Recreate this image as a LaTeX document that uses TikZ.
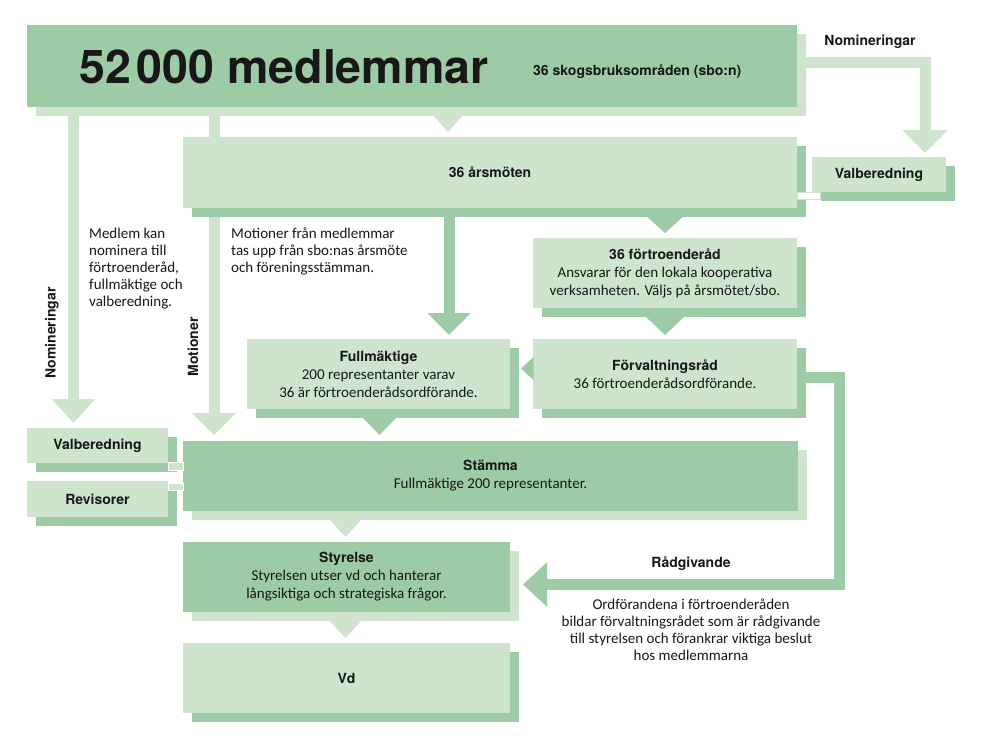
\documentclass[tikz,border=0pt]{standalone}
\usepackage{fontspec}
\setmainfont{Carlito}
\newfontfamily\headfont{TeX Gyre Heros}
\usetikzlibrary{arrows.meta,calc,shadows}
\pgfdeclarelayer{background}
\pgfsetlayers{background,main}
\definecolor{dg}{RGB}{157,203,166}
\definecolor{lg}{RGB}{206,228,205}
\definecolor{ink}{RGB}{24,24,24}
\newcommand{\hd}{\headfont\bfseries\fontsize{14}{18}\selectfont}
\newcommand{\bd}{\fontsize{15}{18}\selectfont}
\newcommand{\pdown}[4]{\fill[#1] ($(#2)+(-#3,0)$) -- ($(#2)+(#3,0)$) -- ($(#2)+(0,#4)$) -- cycle;}
\tikzset{
  box/.style={inner sep=0pt, outer sep=0pt, align=center, text=ink, font=\bd},
  darkbox/.style={box, fill=dg, drop shadow={shadow xshift=8.5pt, shadow yshift=-8.5pt, fill=lg, opacity=1}},
  lightbox/.style={box, fill=lg, drop shadow={shadow xshift=8.5pt, shadow yshift=-8.5pt, fill=dg, opacity=1}},
  band/.style={line width=11pt, line join=miter, -{Triangle[width=43pt,length=23pt]}},
  link/.style={draw=white, fill=lg, line width=1pt},
  label/.style={inner sep=0pt, text=ink, font=\hd},
  free/.style={inner sep=0pt, text=ink, font=\fontsize{15}{16.9}\selectfont},
}
\begin{document}
\begin{tikzpicture}[x=1pt,y=-1pt]
\useasboundingbox (0,0) rectangle (992,753);
% boxes
\node[darkbox, minimum width=770pt, minimum height=82pt] (top) at (412,66) {};
\node[anchor=base west, inner sep=0pt, text=ink, font=\headfont\bfseries\fontsize{46.5}{48}\selectfont] (title) at (79,83) {52\kern6pt000 medlemmar};
\node[anchor=west, label] (sbo) at (533,72) {36 skogsbruksområden (sbo:n)};
\node[lightbox, minimum width=614pt, minimum height=71pt] (arsmoten) at (490,172.5) {{\hd 36 årsmöten}};
\node[lightbox, minimum width=134pt, minimum height=35pt] (valbTR) at (879,174.5) {{\hd Valberedning}};
\node[lightbox, minimum width=264pt, minimum height=70pt] (fortroende) at (665,273) {{\hd 36 förtroenderåd}\\Ansvarar för den lokala kooperativa\\verksamheten. Väljs på årsmötet/sbo.};
\node[lightbox, minimum width=264pt, minimum height=70pt] (forvaltning) at (665,374) {{\hd Förvaltningsråd}\\36 förtroenderådsordförande.};
\node[lightbox, minimum width=263pt, minimum height=70pt] (fullmaktige) at (378.5,374) {{\hd Fullmäktige}\\200 representanter varav\\36 är förtroenderådsordförande.};
\node[darkbox, minimum width=615pt, minimum height=70pt] (stamma) at (490.5,476) {{\hd Stämma}\\Fullmäktige 200 representanter.};
\node[darkbox, minimum width=327pt, minimum height=70pt] (styrelse) at (346.5,577) {{\hd Styrelse}\\Styrelsen utser vd och hanterar\\långsiktiga och strategiska frågor.};
\node[lightbox, minimum width=327pt, minimum height=70pt] (vd) at (346.5,678) {{\hd Vd}};
\node[lightbox, minimum width=141pt, minimum height=35pt] (valbL) at (97.5,445.5) {{\hd Valberedning}};
\node[lightbox, minimum width=141pt, minimum height=36pt] (revisorer) at (97.5,499) {{\hd Revisorer}};
% pointers
\coordinate (p1) at ($(top.south)+(36,7)$);
\pdown{lg}{p1}{16}{18}
\coordinate (p2) at ($(arsmoten.south)+(175,7)$);
\pdown{dg}{p2}{20}{18}
\coordinate (p3) at ($(fortroende.south)+(0,8)$);
\pdown{dg}{p3}{20}{19}
\coordinate (p5) at ($(fullmaktige.south)+(1,8)$);
\pdown{dg}{p5}{17.5}{18}
\coordinate (p6) at ($(stamma.south)+(-145,7)$);
\pdown{lg}{p6}{17.5}{19}
\coordinate (p7) at ($(styrelse.south)+(-1,7)$);
\pdown{lg}{p7}{17.5}{19}
\fill[dg] ($(forvaltning.west)+(0.5,-17)$) -- ($(forvaltning.west)+(0.5,6)$) -- ($(forvaltning.west)+(-12,-5.5)$) -- cycle;
% links
\draw[link] ($(valbL.south east)+(0,-1)$) rectangle ($(valbL.south east)+(15,7)$);
\draw[link] ($(revisorer.north east)+(0,2)$) rectangle ($(revisorer.north east)+(15,9)$);
\draw[draw=lg, fill=white, line width=1pt] ($(valbTR.south west)+(-15,0)$) rectangle ($(valbTR.south west)+(8,7)$);
% connectors
\begin{pgfonlayer}{background}
\draw[band, lg, -{Triangle[width=44pt,length=23pt]}] ($(top.north east)+(0,37)$) -| ($(valbTR.north west)+(113,-4)$);
\draw[band, lg, -{Triangle[width=42pt,length=24pt]}] ($(top.south west)+(46.5,0)$) -- ($(valbL.north west)+(46.5,-5)$);
\draw[band, lg, -{Triangle[width=43pt,length=22pt]}] ($(top.south west)+(187,0)$) -- ($(stamma.north west)+(31,-6)$);
\draw[band, dg, -{Triangle[width=42pt,length=22pt]}] ($(arsmoten.south west)+(266,0)$) -- ($(fullmaktige.north west)+(202,-4)$);
\draw[band, dg, -{Triangle[width=43pt,length=24pt]}] ($(forvaltning.east)+(0,3.5)$) -- ++(42,0) |- ($(styrelse.east)+(13,7.5)$);
\end{pgfonlayer}
% labels
\node[label] (nomTR) at (870,42) {Nomineringar};
\node[label, rotate=90] (nomL) at (52,333) {Nomineringar};
\node[label, rotate=90] (motL) at (193,347) {Motioner};
\node[label] (radg) at (691,564) {Rådgivande};
\node[free, anchor=north west, align=left] (medtext) at (89,228) {Medlem kan\\nominera till\\förtroenderåd,\\fullmäktige och\\valberedning.};
\node[free, anchor=north west, align=left] (mottext) at (231,228) {Motioner från medlemmar\\tas upp från sbo:nas årsmöte\\och föreningsstämman.};
\node[free, anchor=north, align=center] (radtext) at (691,599) {Ordförandena i förtroenderåden\\bildar förvaltningsrådet som är rådgivande\\till styrelsen och förankrar viktiga beslut\\hos medlemmarna};
\end{tikzpicture}
\end{document}
